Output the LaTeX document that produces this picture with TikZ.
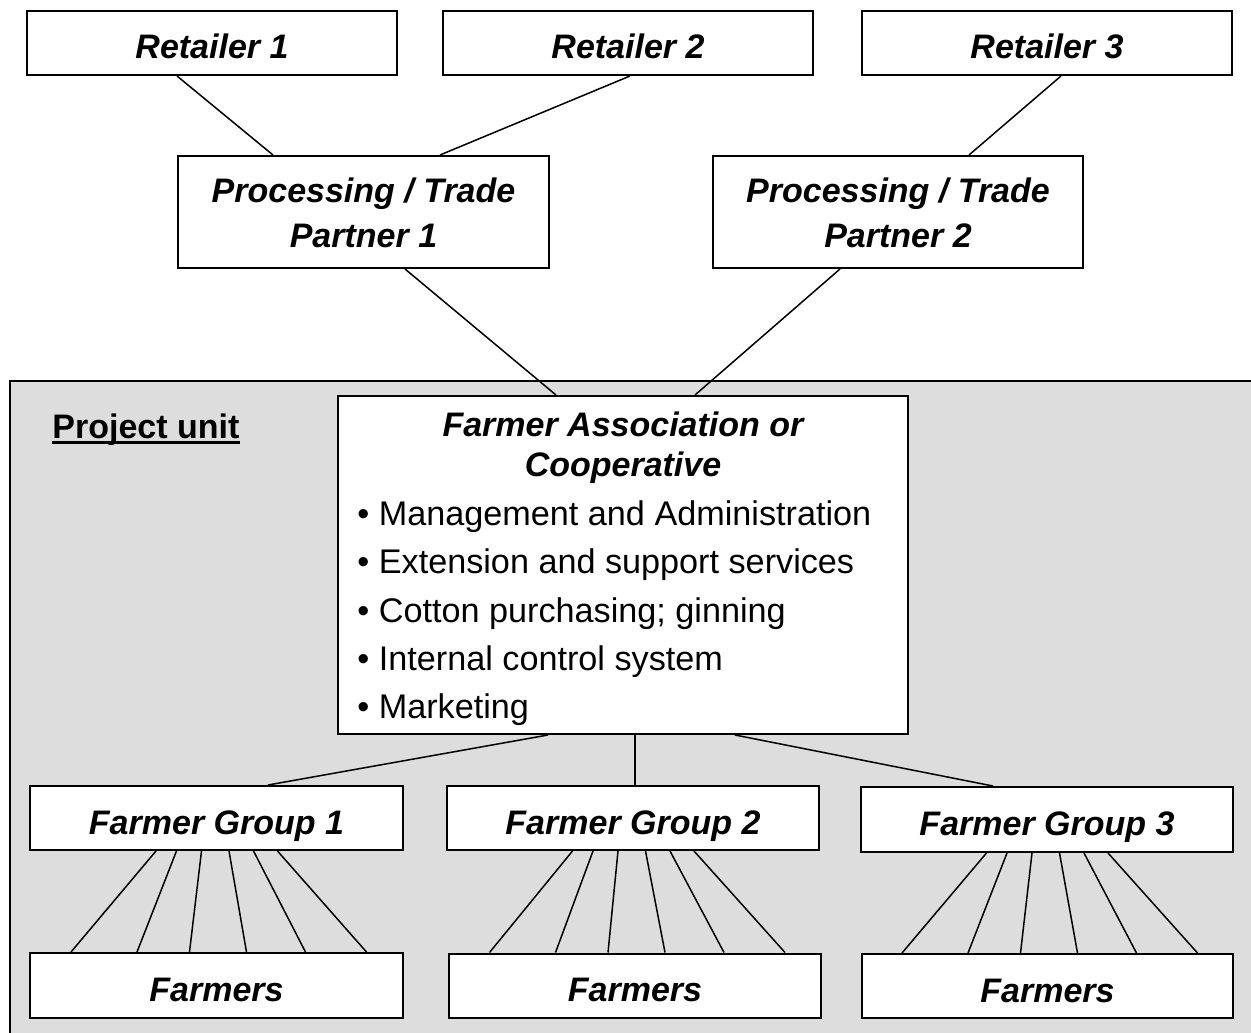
\documentclass[tikz,border=0pt]{standalone}
\usepackage{fontspec}
\setmainfont{Liberation Sans}
\definecolor{panel}{RGB}{221,221,221}
\begin{document}
\begin{tikzpicture}[x=0.5pt,y=-0.5pt,
  box/.style={draw=black, line width=1pt, fill=white, rectangle, inner sep=0pt,
    font=\bfseries\itshape\fontsize{17}{20}\selectfont, text height=17pt, text depth=1pt},
  link/.style={line width=0.75pt},
  hdr/.style={font=\bfseries\itshape\fontsize{17}{20}\selectfont, anchor=base, inner sep=0pt},
  item/.style={font=\fontsize{17.1}{20}\selectfont, anchor=base west, inner sep=0pt},
]
\useasboundingbox (0,0) rectangle (1251,1032);
\clip (0,0) rectangle (1251,1032);

% project unit panel (runs off the right and bottom edges)
\node (unit) [draw=black, line width=1pt, fill=panel, anchor=north west, inner sep=0pt,
  minimum width=630pt, minimum height=340pt] at (9,380) {};
\node (unitlbl) [anchor=base west, inner sep=0pt, font=\bfseries\fontsize{17}{20}\selectfont]
  at (52,438) {Project unit};
\draw[line width=1.1pt] ([yshift=-2.2pt]unitlbl.base west) -- ([yshift=-2.2pt]unitlbl.base east);

% retailers
\node (r1) [box, minimum width=185pt, minimum height=32pt] at (212,43) {Retailer 1};
\node (r2) [box, minimum width=185pt, minimum height=32pt] at (628,43) {Retailer 2};
\node (r3) [box, minimum width=185pt, minimum height=32pt] at (1047,43) {Retailer 3};

% processing / trade partners
\node (p1) [box, minimum width=185.5pt, minimum height=56pt] at (363.5,212) {};
\node (p1a) [hdr] at (363.5,203) {Processing / Trade};
\node (p1b) [hdr] at (363.5,248) {Partner 1};
\node (p2) [box, minimum width=185pt, minimum height=56pt] at (898,212) {};
\node (p2a) [hdr] at (898,203) {Processing / Trade};
\node (p2b) [hdr] at (898,248) {Partner 2};

% farmer association
\node (fa) [box, minimum width=285pt, minimum height=169pt] at (623,565) {};
\node (fat1) [hdr] at (623,436) {Farmer Association or};
\node (fat2) [hdr] at (623,476) {Cooperative};
\node (fa1) [item] at (357,525) {• Management and Administration};
\node (fa2) [item] at (357,573) {• Extension and support services};
\node (fa3) [item] at (357,622) {• Cotton purchasing; ginning};
\node (fa4) [item] at (357,670) {• Internal control system};
\node (fa5) [item] at (357,718) {• Marketing};

% farmer groups
\node (g1) [box, minimum width=186.5pt, minimum height=32pt] at (216.5,818) {Farmer Group 1};
\node (g2) [box, minimum width=186pt, minimum height=32pt] at (633,818) {Farmer Group 2};
\node (g3) [box, minimum width=186pt, minimum height=32.5pt] at (1047,819.5) {Farmer Group 3};

% farmers
\node (f1) [box, minimum width=186.5pt, minimum height=32.5pt] at (216.5,985.5) {Farmers};
\node (f2) [box, minimum width=186pt, minimum height=32pt] at (635,985.5) {Farmers};
\node (f3) [box, minimum width=185.5pt, minimum height=32pt] at (1047.5,986) {Farmers};

% retailer -> partner links
\draw[link] ([xshift=-17.5pt]r1.south) -- ([xshift=-45.25pt]p1.north);
\draw[link] ([xshift=1pt]r2.south) -- ([xshift=38.25pt]p1.north);
\draw[link] ([xshift=7pt]r3.south) -- ([xshift=35.5pt]p2.north);

% partner -> association links
\draw[link] ([xshift=20.75pt]p1.south) -- ([xshift=-33.5pt]fa.north);
\draw[link] ([xshift=-29pt]p2.south) -- ([xshift=36pt]fa.north);

% association -> group links
\draw[link] ([xshift=-37.5pt]fa.south) -- ([xshift=25.75pt]g1.north);
\draw[link] ([xshift=6pt]fa.south) -- ([xshift=1pt]g2.north);
\draw[link] ([xshift=56pt]fa.south) -- ([xshift=-27pt]g3.north);

% group -> farmers fans
\foreach \g/\f in {g1/f1, g2/f2, g3/f3} {
  \foreach \a/\b in {-30.25/-72.75, -20/-39.75, -7.5/-13.5, 6.25/15, 18.5/44.5, 30.5/75} {
    \draw[link] ([xshift=\a pt]\g.south) -- ([xshift=\b pt]\f.north);
  }
}
\end{tikzpicture}
\end{document}
